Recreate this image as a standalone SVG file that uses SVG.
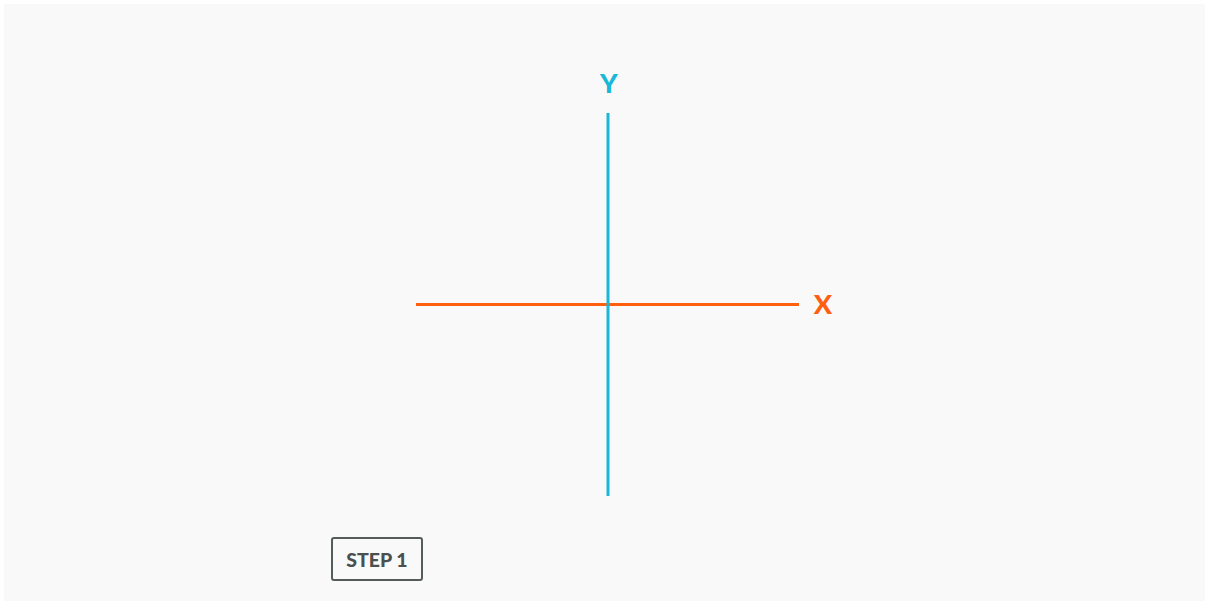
<svg xmlns="http://www.w3.org/2000/svg" width="1209" height="601" viewBox="0 0 1209 601">
<style>
.lbl{font-family:Lato,"Open Sans","Liberation Sans",sans-serif;font-weight:900;text-anchor:middle}
</style>
<rect x="0" y="0" width="1209" height="601" fill="#ffffff"/>
<rect x="4" y="4" width="1201" height="597" fill="#f9f9f9"/>
<g id="connectors">
<line id="x-axis" x1="416" y1="304.5" x2="799" y2="304.5" stroke="#ff5f0f" stroke-width="3"/>
<line id="y-axis" x1="608" y1="113" x2="608" y2="496" stroke="#1ab8d6" stroke-width="3"/>
</g>
<g id="label-y"><text class="lbl" x="609" y="93" font-size="27" fill="#1ab8d6">Y</text></g>
<g id="label-x"><text class="lbl" x="823" y="314" font-size="27" fill="#ff5f0f">X</text></g>
<g id="step1">
<rect x="332" y="538" width="90" height="42" rx="2" fill="none" stroke="#555a5a" stroke-width="2"/>
<text class="lbl" x="377" y="567" font-size="19.5" fill="#4a4f4f">STEP 1</text>
</g>
</svg>
